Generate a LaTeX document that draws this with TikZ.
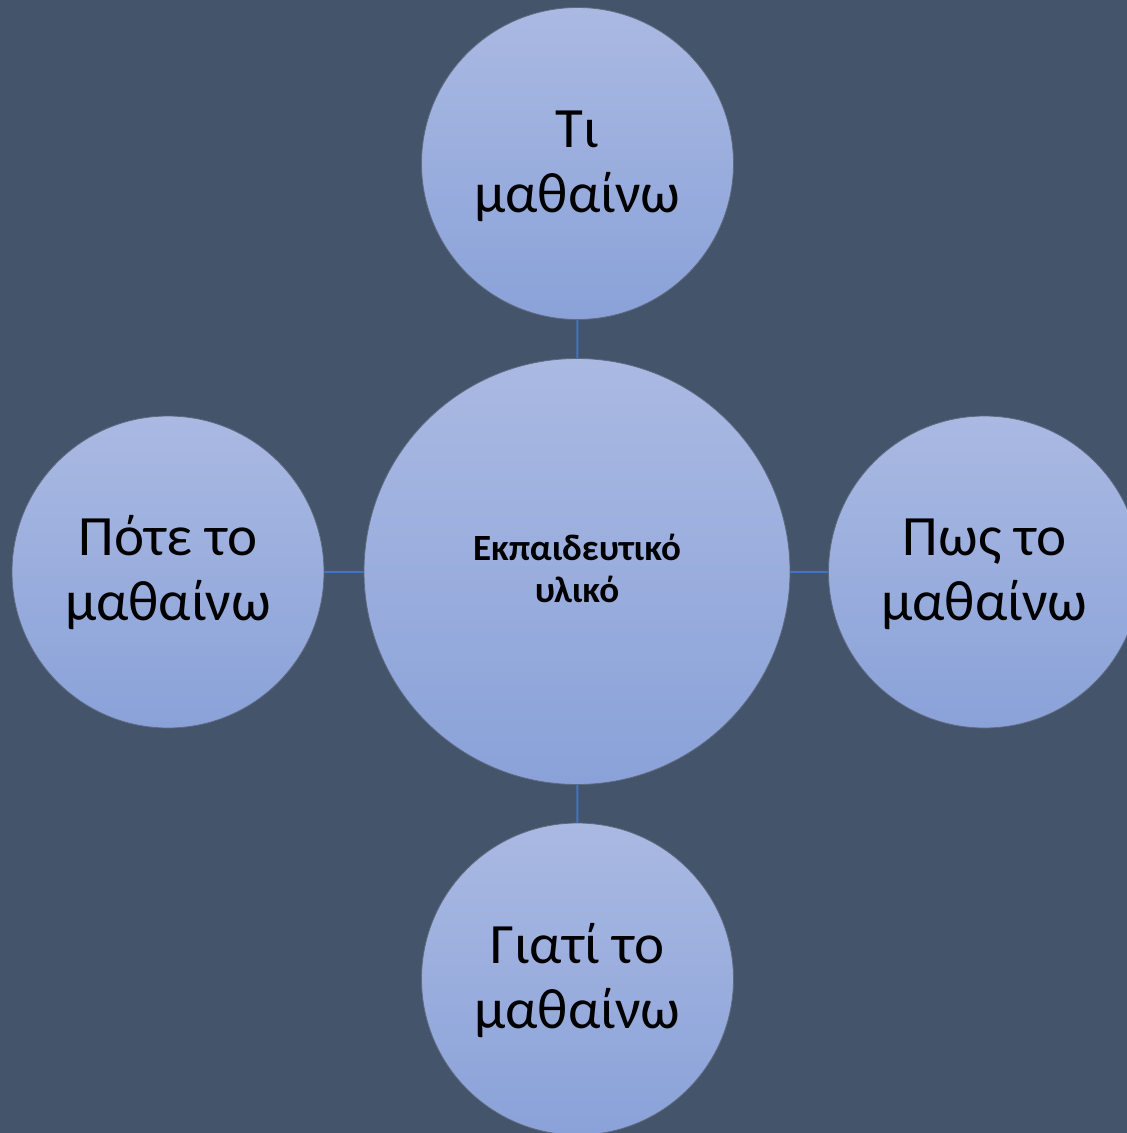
\documentclass[tikz,border=0pt]{standalone}
\usepackage{fontspec}
\setmainfont{Carlito}
\definecolor{bg}{HTML}{44546A}
\definecolor{ctop}{HTML}{AAB9E2}
\definecolor{cbot}{HTML}{8AA2D9}
\definecolor{conn}{HTML}{4472C4}
\definecolor{rim}{HTML}{5E6A80}
\tikzset{
  bubble/.style={circle, inner sep=0pt, top color=ctop, bottom color=cbot, draw=rim, line width=0.8pt},
  small/.style={bubble, minimum size=312pt},
  big/.style={bubble, minimum size=426pt},
  link/.style={draw=conn, line width=2pt},
  smalltext/.style={font=\fontsize{57}{65}\selectfont, align=center, anchor=base, inner sep=0pt},
  bigtext/.style={font=\fontsize{37}{42}\selectfont\bfseries, align=center, anchor=base, inner sep=0pt}
}
\begin{document}
\begin{tikzpicture}[x=1pt,y=-1pt]
\useasboundingbox (0,0) rectangle (1127,1133);
\fill[bg] (0,0) rectangle (1127,1133);
\clip (0,0) rectangle (1127,1133);
\node[big] (c) at (577,571.5) {};
\node[small] (t) at (577.5,163.5) {};
\node[small] (l) at (168,572) {};
\node[small] (r) at (984.5,572) {};
\node[small] (b) at (577.5,979) {};
\draw[link] (t) -- (c);
\draw[link] (l) -- (c);
\draw[link] (r) -- (c);
\draw[link] (b) -- (c);
\node[bigtext] (ct) at (577,602) {Εκπαιδευτικό\\υλικό};
\node[smalltext] (tt) at (577.5,212) {Τι\\μαθαίνω};
\node[smalltext] (lt) at (168,620) {Πότε το\\μαθαίνω};
\node[smalltext] (rt) at (984.5,620) {Πως το\\μαθαίνω};
\node[smalltext] (bt) at (577.5,1028) {Γιατί το\\μαθαίνω};
\end{tikzpicture}
\end{document}
